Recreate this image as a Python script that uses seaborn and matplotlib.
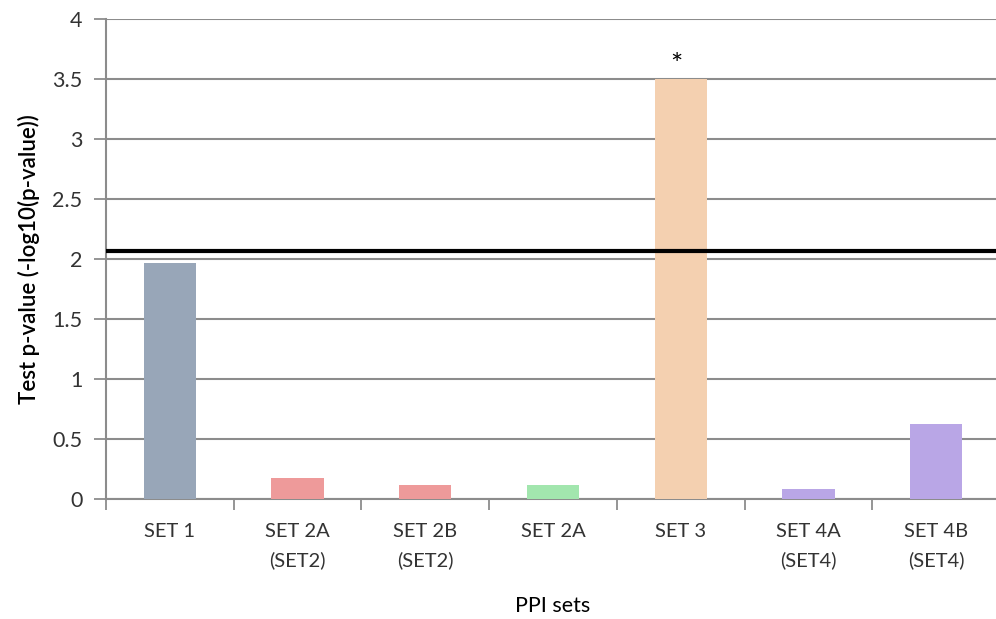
import matplotlib
matplotlib.use("Agg")
import matplotlib.pyplot as plt
import seaborn as sns
import pandas as pd

# PPI sets and their test p-values on a -log10 scale
categories = ["SET 1", "SET 2A\n(SET2)", "SET 2B\n(SET2)", "SET 2A",
              "SET 3", "SET 4A\n(SET4)", "SET 4B\n(SET4)"]
values = [1.97, 0.175, 0.115, 0.12, 3.50, 0.085, 0.625]
colors = ["#98A6B8", "#EE9A9A", "#EE9A9A", "#A2E6AE",
          "#F4D0B0", "#B9A6E6", "#B9A6E6"]
threshold = 2.07
significant = ["SET 3"]
y_ticks = [0, 0.5, 1, 1.5, 2, 2.5, 3, 3.5, 4]
y_tick_labels = ["0", "0.5", "1", "1.5", "2", "2.5", "3", "3.5", "4"]

sns.set_theme(style="white")
plt.rcParams["font.family"] = ["Lato", "DejaVu Sans"]

df = pd.DataFrame({"set": categories, "value": values})

W, H = 996, 619
fig = plt.figure(figsize=(W / 100, H / 100), dpi=100)
ax = fig.add_axes([106 / W, (H - 499) / H, (1000 - 106) / W, (499 - 19) / H])

sns.barplot(data=df, x="set", y="value", hue="set", palette=colors,
            width=0.41, saturation=1, legend=False, ax=ax, zorder=3,
            linewidth=0)

grid_color = "#8C8C8C"
text_color = "#333333"
ax.set_ylim(0, 4)
ax.set_xlim(-0.5, len(categories) - 0.5)
ax.set_yticks(y_ticks)
ax.set_yticklabels(y_tick_labels)
ax.yaxis.grid(True, color=grid_color, linewidth=1.5, zorder=1)
ax.xaxis.grid(False)
ax.set_axisbelow(True)

for side in ["top", "right"]:
    ax.spines[side].set_visible(False)
for side in ["left", "bottom"]:
    ax.spines[side].set_visible(True)
    ax.spines[side].set_color(grid_color)
    ax.spines[side].set_linewidth(1.5)

# x tick marks sit on the category boundaries
ax.set_xticks(range(len(categories)))
ax.set_xticklabels(categories, linespacing=1.8)
ax.set_xticks([i - 0.5 for i in range(len(categories) + 1)], minor=True)
ax.tick_params(axis="x", which="major", length=0, pad=17,
               labelsize=14.5, labelcolor=text_color)
ax.tick_params(axis="x", which="minor", length=8, width=1.3,
               color=grid_color, direction="out", bottom=True)
ax.tick_params(axis="y", which="major", length=9, width=1.3,
               color=grid_color, direction="out", left=True, pad=8,
               labelsize=15.5, labelcolor=text_color)

# significance threshold
ax.axhline(threshold, color="black", linewidth=3, zorder=4)

# asterisks over significant sets
for name in significant:
    i = categories.index(name)
    ax.annotate("*", xy=(i, values[i]), xytext=(-3, 0),
                textcoords="offset points", ha="center", va="bottom",
                fontsize=21, color="black")

ax.set_xlabel("PPI sets", fontsize=15.5, color="black", labelpad=19)
ax.set_ylabel("Test p-value (-log10(p-value))", fontsize=16,
              color="black", fontweight="semibold", labelpad=9)

fig.savefig("out.png", dpi=100)
